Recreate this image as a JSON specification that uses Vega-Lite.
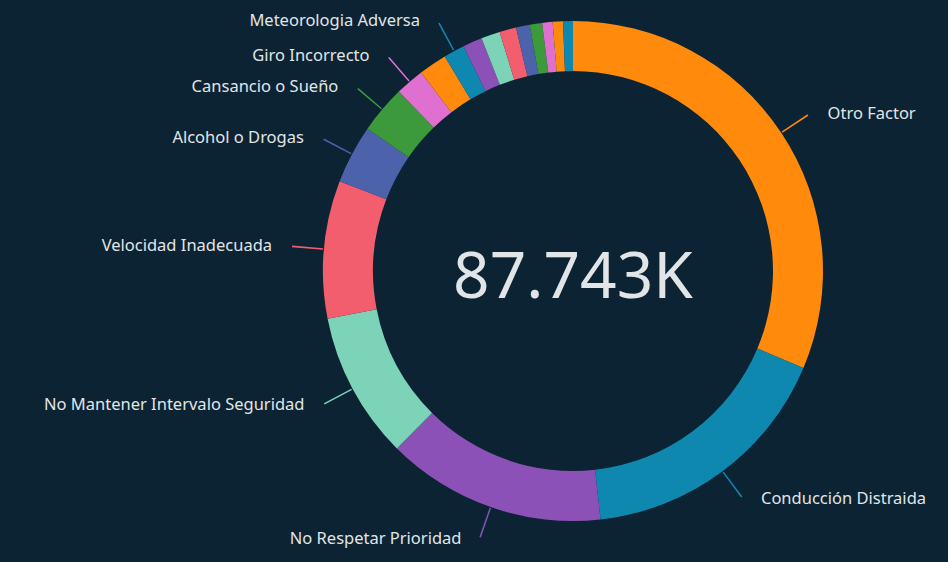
{
  "$schema": "https://vega.github.io/schema/vega-lite/v6.json",
  "width": 750,
  "height": 542,
  "autosize": {"type": "none"},
  "padding": {"left": 198, "top": 0, "right": 0, "bottom": 20},
  "background": "#0b2333",
  "config": {"view": {"stroke": null}, "text": {"font": "Noto Sans"}},
  "data": {
    "values": [
      {"order": 1, "factor": "Otro Factor", "value": 27498},
      {"order": 2, "factor": "Conducción Distraida", "value": 14830},
      {"order": 3, "factor": "No Respetar Prioridad", "value": 12460},
      {"order": 4, "factor": "No Mantener Intervalo Seguridad", "value": 8335},
      {"order": 5, "factor": "Velocidad Inadecuada", "value": 7810},
      {"order": 6, "factor": "Alcohol o Drogas", "value": 3330},
      {"order": 7, "factor": "Cansancio o Sueño", "value": 2720},
      {"order": 8, "factor": "Giro Incorrecto", "value": 1640},
      {"order": 9, "factor": "Adelantamiento Indebido", "value": 1600},
      {"order": 10, "factor": "Meteorologia Adversa", "value": 1195},
      {"order": 11, "factor": "Estado de la Vía", "value": 1095},
      {"order": 12, "factor": "Avería Mecánica", "value": 1070},
      {"order": 13, "factor": "Deslumbramiento", "value": 950},
      {"order": 14, "factor": "Marcha Atrás", "value": 780},
      {"order": 15, "factor": "Peatón", "value": 700},
      {"order": 16, "factor": "Animales en Calzada", "value": 590},
      {"order": 17, "factor": "Obstáculo en Calzada", "value": 580},
      {"order": 18, "factor": "Exceso de Carga", "value": 560}
    ]
  },
  "transform": [
    {"window": [{"op": "sum", "field": "value", "as": "cumEnd"}], "sort": [{"field": "order"}], "frame": [null, 0]},
    {"joinaggregate": [{"op": "sum", "field": "value", "as": "total"}]},
    {"calculate": "datum.cumEnd - datum.value", "as": "cumStart"},
    {"calculate": "datum.cumEnd - datum.value / 2", "as": "mid"},
    {"calculate": "datum.mid - 40", "as": "tick0"},
    {"calculate": "datum.mid + 40", "as": "tick1"}
  ],
  "layer": [
    {
      "mark": {"type": "arc", "radius": 250, "innerRadius": 200},
      "encoding": {
        "theta": {"field": "cumStart", "type": "quantitative", "scale": {"domain": [0, 87743]}},
        "theta2": {"field": "cumEnd"},
        "color": {
          "field": "factor", "type": "nominal", "sort": {"field": "order"}, "legend": null,
          "scale": {"range": ["#FF8A0C", "#0F88B0", "#8B51B6", "#7DD3B7", "#F25E6E", "#4C63AB", "#3C9A3C", "#E070D0"]}
        }
      }
    },
    {
      "transform": [{"filter": {"field": "factor", "oneOf": ["Otro Factor", "Conducción Distraida", "No Respetar Prioridad", "No Mantener Intervalo Seguridad", "Velocidad Inadecuada", "Alcohol o Drogas", "Cansancio o Sueño", "Giro Incorrecto", "Meteorologia Adversa"]}}],
      "mark": {"type": "arc", "radius": 282, "innerRadius": 251},
      "encoding": {
        "theta": {"field": "tick0", "type": "quantitative", "scale": {"domain": [0, 87743]}},
        "theta2": {"field": "tick1"},
        "color": {"field": "factor", "type": "nominal", "sort": {"field": "order"}, "legend": null}
      }
    },
    {
      "transform": [
        {"filter": {"field": "factor", "oneOf": ["Otro Factor", "Conducción Distraida", "No Respetar Prioridad", "No Mantener Intervalo Seguridad", "Velocidad Inadecuada", "Alcohol o Drogas", "Cansancio o Sueño", "Giro Incorrecto", "Meteorologia Adversa"]}},
        {"filter": "datum.mid < datum.total / 2"}
      ],
      "mark": {"type": "text", "radius": 284, "align": "left", "baseline": "middle", "dx": 18, "fontSize": 16.5, "letterSpacing": 0.3, "color": "#e2e5e8"},
      "encoding": {
        "theta": {"field": "mid", "type": "quantitative", "scale": {"domain": [0, 87743]}},
        "text": {"field": "factor"}
      }
    },
    {
      "transform": [
        {"filter": {"field": "factor", "oneOf": ["Otro Factor", "Conducción Distraida", "No Respetar Prioridad", "No Mantener Intervalo Seguridad", "Velocidad Inadecuada", "Alcohol o Drogas", "Cansancio o Sueño", "Giro Incorrecto", "Meteorologia Adversa"]}},
        {"filter": "datum.mid >= datum.total / 2"}
      ],
      "mark": {"type": "text", "radius": 284, "align": "right", "baseline": "middle", "dx": -18, "fontSize": 16.5, "letterSpacing": 0.3, "color": "#e2e5e8"},
      "encoding": {
        "theta": {"field": "mid", "type": "quantitative", "scale": {"domain": [0, 87743]}},
        "text": {"field": "factor"}
      }
    },
    {
      "transform": [
        {"aggregate": [{"op": "sum", "field": "value", "as": "sum"}]},
        {"calculate": "upper(format(datum.sum / 1000, '.3f')) + 'K'", "as": "label"}
      ],
      "mark": {"type": "text", "fontSize": 64, "color": "#e2e5e8", "align": "center", "baseline": "middle", "dy": 8},
      "encoding": {"text": {"field": "label"}}
    }
  ]
}
